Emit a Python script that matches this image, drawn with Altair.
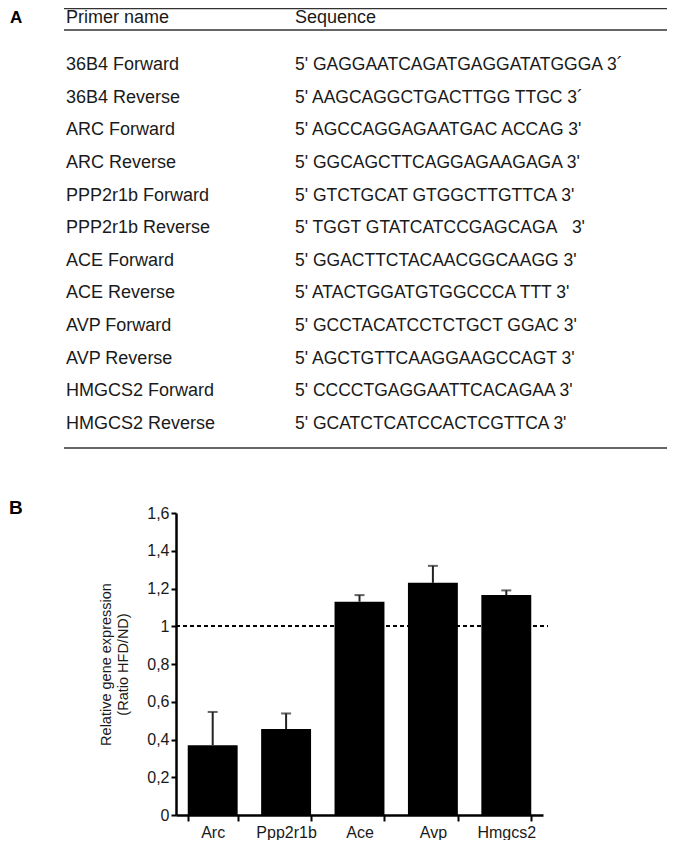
import altair as alt
import pandas as pd

# ---- Panel A: primer table ----
primer_names = [
    "36B4 Forward", "36B4 Reverse", "ARC Forward", "ARC Reverse",
    "PPP2r1b Forward", "PPP2r1b Reverse", "ACE Forward", "ACE Reverse",
    "AVP Forward", "AVP Reverse", "HMGCS2 Forward", "HMGCS2 Reverse",
]
sequences = [
    "5' GAGGAATCAGATGAGGATATGGGA 3\u00b4",
    "5' AAGCAGGCTGACTTGG TTGC 3\u00b4",
    "5' AGCCAGGAGAATGAC ACCAG 3'",
    "5' GGCAGCTTCAGGAGAAGAGA 3'",
    "5' GTCTGCAT GTGGCTTGTTCA 3'",
    "5' TGGT GTATCATCCGAGCAGA\u00a0\u00a0 3'",
    "5' GGACTTCTACAACGGCAAGG 3'",
    "5' ATACTGGATGTGGCCCA TTT 3'",
    "5' GCCTACATCCTCTGCT GGAC 3'",
    "5' AGCTGTTCAAGGAAGCCAGT 3'",
    "5' CCCCTGAGGAATTCACAGAA 3'",
    "5' GCATCTCATCCACTCGTTCA 3'",
]
header = ["Primer name", "Sequence"]

# ---- Panel B: bar chart ----
genes = ["Arc", "Ppp2r1b", "Ace", "Avp", "Hmgcs2"]
means = [0.37, 0.455, 1.13, 1.23, 1.165]
upper = [0.546, 0.538, 1.165, 1.32, 1.19]
y_ticks = [0, 0.2, 0.4, 0.6, 0.8, 1.0, 1.2, 1.4, 1.6]

FONT = "Liberation Sans"
TXT = "#1a1a1a"
NAME_SIZE = 18
SEQ_SIZE = 17.5

table_df = pd.DataFrame({"row": list(range(len(primer_names))),
                         "name": primer_names, "seq": sequences})
bar_df = pd.DataFrame({"gene": genes, "mean": means, "upper": upper})

row_scale = alt.Scale(domain=[0, 11], range=[62, 421])

names_layer = alt.Chart(table_df).mark_text(
    align="left", baseline="alphabetic", font=FONT, fontSize=NAME_SIZE, color=TXT
).encode(x=alt.value(58), y=alt.Y("row:Q", scale=row_scale, axis=None), text="name:N")

seq_layer = alt.Chart(table_df).mark_text(
    align="left", baseline="alphabetic", font=FONT, fontSize=SEQ_SIZE, color=TXT
).encode(x=alt.value(287), y=alt.Y("row:Q", scale=row_scale, axis=None), text="seq:N")

hdr1 = alt.Chart().mark_text(align="left", baseline="top", font=FONT,
                             fontSize=NAME_SIZE, color=TXT, text=header[0]
                             ).encode(x=alt.value(58), y=alt.value(1))
hdr2 = alt.Chart().mark_text(align="left", baseline="top", font=FONT,
                             fontSize=NAME_SIZE, color=TXT, text=header[1]
                             ).encode(x=alt.value(287), y=alt.value(1))

def hline(ypix):
    return alt.Chart().mark_rule(color="#333333", strokeWidth=1.3).encode(
        x=alt.value(56), x2=alt.value(659), y=alt.value(ypix))

lbl_a = alt.Chart().mark_text(align="left", baseline="top", font=FONT,
                              fontSize=17, fontWeight="bold", color="black", text="A"
                              ).encode(x=alt.value(2), y=alt.value(2))
lbl_b = alt.Chart().mark_text(align="left", baseline="alphabetic", font=FONT,
                              fontSize=19, fontWeight="bold", color="black", text="B"
                              ).encode(x=alt.value(1), y=alt.value(506))

x_enc = alt.X(
    "gene:N", sort=genes, title=None,
    scale=alt.Scale(range=[168, 535], paddingInner=0.32, paddingOuter=0.16),
    axis=alt.Axis(orient="bottom", offset=-25, labelAngle=0, labelFont=FONT,
                  labelFontSize=16, labelColor=TXT, labelPadding=16,
                  labelBaseline="alphabetic",
                  tickBand="extent", tickSize=6, tickWidth=2, tickColor="black",
                  domainWidth=2.5, domainColor="black", grid=False),
)
y_scale = alt.Scale(domain=[0, 1.6], range=[807, 505], nice=False, zero=True)
y_enc = alt.Y(
    "mean:Q", scale=y_scale,
    title=["Relative gene expression", "(Ratio HFD/ND)"],
    axis=alt.Axis(orient="left", offset=-168, values=y_ticks,
                  labelExpr="replace(format(datum.value, '.1~f'), '.', ',')",
                  labelFont=FONT, labelFontSize=16, labelColor=TXT, labelPadding=2,
                  tickSize=5, tickWidth=2, tickColor="black",
                  domainWidth=2.5, domainColor="black", grid=False,
                  titleFont=FONT, titleFontSize=14.5, titleFontWeight="normal",
                  titleColor=TXT, titlePadding=16, titleLineHeight=17),
)

bars = alt.Chart(bar_df).mark_bar(color="black").encode(x=x_enc, y=y_enc)
err = alt.Chart(bar_df).mark_rule(color="#222222", strokeWidth=2).encode(
    x=alt.X("gene:N", sort=genes), y="mean:Q", y2="upper:Q")
cap = alt.Chart(bar_df).mark_tick(color="#222222", thickness=2, size=10).encode(
    x=alt.X("gene:N", sort=genes), y="upper:Q")
ref = alt.Chart().mark_rule(color="black", strokeWidth=1.5, strokeDash=[4, 3]).encode(
    y=alt.datum(1), x=alt.value(168), x2=alt.value(540))

bar_part = alt.layer(bars, err, cap, ref, data=bar_df)

chart = alt.layer(
    hline(0.5), hline(22), hline(440),
    hdr1, hdr2, names_layer, seq_layer, lbl_a, lbl_b,
    bar_part,
).resolve_scale(x="independent", y="independent").properties(
    width=659, height=832, padding=0,
    autosize=alt.AutoSizeParams(type="none"),
).configure_view(stroke=None)

chart.save("out.html", embed_options={"renderer": "svg", "actions": False})
